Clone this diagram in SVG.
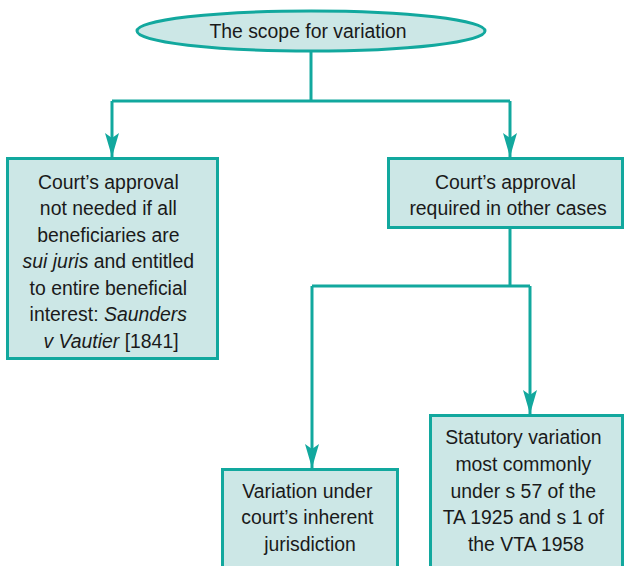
<svg xmlns="http://www.w3.org/2000/svg" width="624" height="566" viewBox="0 0 624 566">
  <defs>
    <style>
      .shape { fill: #cce7e6; stroke: #12a89e; stroke-width: 3; }
      .link { fill: none; stroke: #12a89e; stroke-width: 3; }
      .label { font-family: "Liberation Sans", Arial, sans-serif; font-size: 19.4px; fill: #1a1a1a; text-anchor: middle; }
      .it { font-style: italic; }
    </style>
    <marker id="head" markerUnits="userSpaceOnUse" markerWidth="26" markerHeight="16" viewBox="-24 -8 26 16" refX="0" refY="0" orient="auto">
      <path d="M0,0 L-24,-7 L-19,0 L-24,7 Z" fill="#12a89e"/>
    </marker>
  </defs>

  <!-- connectors -->
  <g id="connectors">
    <polyline class="link" points="311,51 311,101"/>
    <polyline class="link" points="112,101 510,101"/>
    <polyline class="link" points="112,101 112,157" marker-end="url(#head)"/>
    <polyline class="link" points="510,101 510,157" marker-end="url(#head)"/>
    <polyline class="link" points="510,228 510,286"/>
    <polyline class="link" points="312,286 530,286"/>
    <polyline class="link" points="312,286 312,468" marker-end="url(#head)"/>
    <polyline class="link" points="530,286 530,414" marker-end="url(#head)"/>
  </g>

  <g id="root">
    <ellipse class="shape" cx="311" cy="31" rx="174" ry="20"/>
    <text class="label" x="308" y="38">The scope for variation</text>
  </g>

  <g id="no-approval">
    <rect class="shape" x="7.5" y="158.5" width="210" height="200"/>
    <text class="label">
      <tspan x="111" y="189">Court’s approval</tspan>
      <tspan x="111" y="215">not needed if all</tspan>
      <tspan x="111" y="242">beneficiaries are</tspan>
      <tspan x="111" y="268"><tspan class="it">sui juris</tspan> and entitled</tspan>
      <tspan x="111" y="295">to entire beneficial</tspan>
      <tspan x="111" y="321">interest: <tspan class="it">Saunders</tspan></tspan>
      <tspan x="111" y="348"><tspan class="it">v Vautier</tspan> [1841]</tspan>
    </text>
  </g>

  <g id="approval-required">
    <rect class="shape" x="388.5" y="158.5" width="234" height="69"/>
    <text class="label">
      <tspan x="508" y="189">Court’s approval</tspan>
      <tspan x="508" y="215">required in other cases</tspan>
    </text>
  </g>

  <g id="inherent">
    <rect class="shape" x="222.5" y="469.5" width="175" height="100"/>
    <text class="label">
      <tspan x="310" y="498">Variation under</tspan>
      <tspan x="310" y="524">court’s inherent</tspan>
      <tspan x="310" y="551">jurisdiction</tspan>
    </text>
  </g>

  <g id="statutory">
    <rect class="shape" x="430.5" y="415.5" width="192" height="154"/>
    <text class="label">
      <tspan x="526" y="444">Statutory variation</tspan>
      <tspan x="526" y="471">most commonly</tspan>
      <tspan x="526" y="498">under s 57 of the</tspan>
      <tspan x="526" y="524">TA 1925 and s 1 of</tspan>
      <tspan x="526" y="551">the VTA 1958</tspan>
    </text>
  </g>
</svg>
